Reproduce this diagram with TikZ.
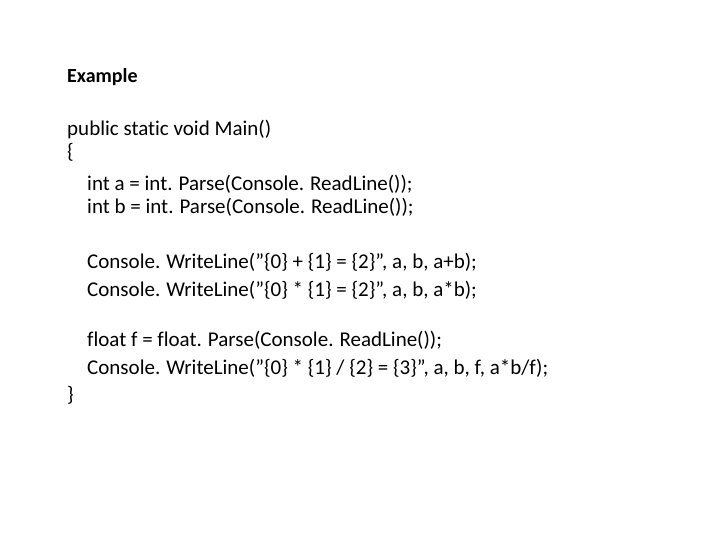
\documentclass[tikz,border=0pt]{standalone}
\usepackage{fontspec}
\setmainfont{Carlito}[Ligatures=NoCommon]
\newcommand{\q}{\char34 }
\newcommand{\dt}{.\hspace{6pt}}
\begin{document}
\begin{tikzpicture}[x=1pt,y=-1pt,
  ln/.style={anchor=base west,inner sep=0pt,font=\fontsize{21}{25}\selectfont}]
\useasboundingbox (0,0) rectangle (720,540);
\node[ln,font=\fontsize{20}{24}\selectfont\bfseries] (t) at (67,83) {Example};
\node[ln] (l1) at (67,136) {public static void Main()};
\node[ln] (l2) at (67,159) {\{};
\node[ln] (l3) at (87,191) {int a = int\dt Parse(Console\dt ReadLine());};
\node[ln] (l4) at (87,214) {int b = int\dt Parse(Console\dt ReadLine());};
\node[ln] (l5) at (87,268) {Console\dt WriteLine(\q\{0\} + \{1\} = \{2\}\q, a, b, a+b);};
\node[ln] (l6) at (87,296) {Console\dt WriteLine(\q\{0\} * \{1\} = \{2\}\q, a, b, a*b);};
\node[ln] (l7) at (87,346) {float f = float\dt Parse(Console\dt ReadLine());};
\node[ln] (l8) at (87,374) {Console\dt WriteLine(\q\{0\} * \{1\} / \{2\} = \{3\}\q, a, b, f, a*b/f);};
\node[ln] (l9) at (67,401) {\}};
\end{tikzpicture}
\end{document}
